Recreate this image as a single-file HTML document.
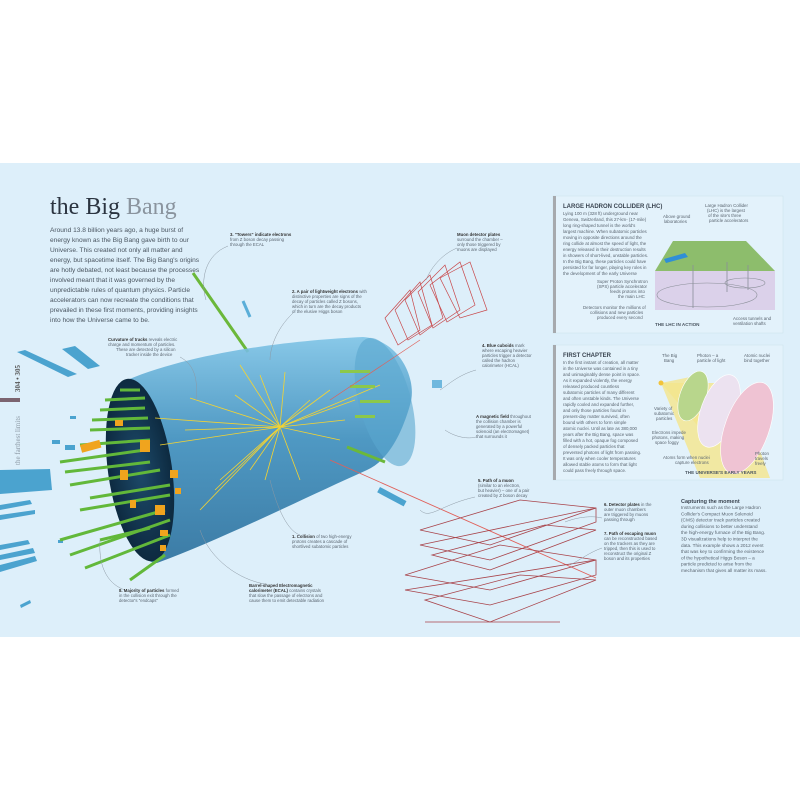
<!DOCTYPE html>
<html><head><meta charset="utf-8"><style>
body{margin:0;width:800px;height:800px;background:#fff;overflow:hidden;font-family:"Liberation Sans",sans-serif}
</style></head><body>
<svg width="800" height="800" viewBox="0 0 800 800" xmlns="http://www.w3.org/2000/svg" font-family="Liberation Sans, sans-serif">
<defs>
<linearGradient id="bar" x1="0" y1="0" x2="0" y2="1">
<stop offset="0" stop-color="#7fc4e6"/><stop offset="0.45" stop-color="#3f8fbd"/><stop offset="1" stop-color="#2a6f9c"/>
</linearGradient>
<radialGradient id="endc" cx="0.5" cy="0.5" r="0.5">
<stop offset="0" stop-color="#1d4a6a"/><stop offset="1" stop-color="#0d2a40"/>
</radialGradient>
</defs>
<rect x="0" y="163" width="800" height="474" fill="#ddeffa"/>
<rect x="0" y="398" width="20" height="4" fill="#7b6470"/>
<text transform="translate(20,465) rotate(-90)" font-size="7" fill="#8b98a4" style="font-family:'Liberation Serif',serif">the farthest limits</text>
<text transform="translate(20,392) rotate(-90)" font-size="7" fill="#555" font-weight="bold" style="font-family:'Liberation Serif',serif">304 • 305</text>
<text x="50" y="214" font-size="24" style="font-family:'Liberation Serif',serif" fill="#2b3440">the Big <tspan fill="#8a949e">Bang</tspan></text>
<g font-size="6.6" fill="#4a5560">
<text x="50" y="232">Around 13.8 billion years ago, a huge burst of</text>
<text x="50" y="242">energy known as the Big Bang gave birth to our</text>
<text x="50" y="252">Universe. This created not only all matter and</text>
<text x="50" y="262">energy, but spacetime itself. The Big Bang's origins</text>
<text x="50" y="272">are hotly debated, not least because the processes</text>
<text x="50" y="282">involved meant that it was governed by the</text>
<text x="50" y="292">unpredictable rules of quantum physics. Particle</text>
<text x="50" y="302">accelerators can now recreate the conditions that</text>
<text x="50" y="312">prevailed in these first moments, providing insights</text>
<text x="50" y="322">into how the Universe came to be.</text>
</g>
<g fill="#4ba3cf">
<polygon points="62,349 75,346 100,366 88,369"/>
<polygon points="17,352 25,350 77,374 68,377"/>
<polygon points="0,470 50,469 52,490 0,494"/>
<polygon points="0,505 30,500 32,504 0,510"/>
<polygon points="0,515 35,510 35,514 0,520"/>
<polygon points="0,545 28,540 30,544 0,550"/>
<polygon points="0,555 33,548 35,553 0,560"/>
<polygon points="0,565 35,556 37,561 0,572"/>
<polygon points="20,605 30,600 31,603 21,608"/>
<rect x="52" y="440" width="8" height="4"/><rect x="65" y="445" width="10" height="5"/>
<rect x="70" y="416" width="6" height="3"/><rect x="58" y="540" width="5" height="3"/>
</g>
<line x1="193" y1="273" x2="248" y2="352" stroke="#6bb83a" stroke-width="3"/>
<line x1="243" y1="301" x2="250" y2="317" stroke="#5aaed8" stroke-width="3"/>
<path d="M127,380 C200,350 300,340 363,337 C400,340 418,380 410,405 C400,440 385,462 367,470 C300,500 220,540 157,563 C120,560 100,470 127,380 Z" fill="url(#bar)" opacity="0.9"/>
<ellipse cx="140" cy="470" rx="32" ry="92" transform="rotate(-8 140 470)" fill="url(#endc)"/>
<ellipse cx="385" cy="402" rx="26" ry="66" transform="rotate(-15 385 402)" fill="#5aa6cf" opacity="0.6"/>
<g stroke="#62b83a" stroke-width="3">
<line x1="120" y1="390" x2="140" y2="390"/><line x1="105" y1="400" x2="145" y2="398"/>
<line x1="100" y1="410" x2="145" y2="408"/><line x1="92" y1="420" x2="148" y2="418"/>
<line x1="90" y1="430" x2="150" y2="428"/><line x1="80" y1="445" x2="150" y2="440"/>
<line x1="60" y1="462" x2="145" y2="450"/><line x1="65" y1="472" x2="150" y2="462"/>
<line x1="70" y1="485" x2="160" y2="470"/><line x1="90" y1="498" x2="170" y2="485"/>
<line x1="80" y1="510" x2="170" y2="495"/><line x1="60" y1="540" x2="165" y2="510"/>
<line x1="70" y1="555" x2="170" y2="520"/><line x1="85" y1="568" x2="170" y2="535"/>
<line x1="100" y1="540" x2="150" y2="528"/><line x1="130" y1="580" x2="165" y2="555"/>
</g>
<g fill="#f0a41e">
<rect x="80" y="445" width="20" height="8" transform="rotate(-15 80 445)"/>
<rect x="140" y="440" width="10" height="12"/><rect x="170" y="470" width="8" height="8"/>
<rect x="175" y="488" width="6" height="6"/><rect x="120" y="470" width="8" height="10"/>
<rect x="155" y="505" width="10" height="10"/><rect x="160" y="530" width="8" height="6"/>
<rect x="115" y="420" width="8" height="6"/><rect x="160" y="545" width="6" height="6"/>
<rect x="130" y="500" width="6" height="8"/>
</g>
<g stroke="#f5d431" stroke-width="0.8">
<line x1="280" y1="427" x2="155" y2="418"/><line x1="280" y1="427" x2="160" y2="445"/>
<line x1="280" y1="427" x2="190" y2="398"/><line x1="280" y1="427" x2="215" y2="490"/>
<line x1="280" y1="427" x2="240" y2="365"/><line x1="280" y1="427" x2="260" y2="375"/>
<line x1="280" y1="427" x2="285" y2="372"/><line x1="280" y1="427" x2="300" y2="480"/>
<line x1="280" y1="427" x2="330" y2="390"/><line x1="280" y1="427" x2="345" y2="420"/>
<line x1="280" y1="427" x2="340" y2="440"/><line x1="280" y1="427" x2="220" y2="480"/>
<line x1="280" y1="427" x2="265" y2="480"/><line x1="280" y1="427" x2="200" y2="510"/>
<line x1="280" y1="427" x2="310" y2="400"/><line x1="280" y1="427" x2="380" y2="385"/>
<line x1="280" y1="427" x2="250" y2="470"/><line x1="280" y1="427" x2="235" y2="395"/>
<line x1="280" y1="427" x2="185" y2="430"/><line x1="280" y1="427" x2="355" y2="400"/>
</g>
<g fill="#8cc84a"><rect x="340" y="370" width="30" height="3"/><rect x="350" y="385" width="25" height="3"/><rect x="360" y="400" width="30" height="3"/><rect x="355" y="415" width="20" height="3"/></g>
<line x1="347" y1="447" x2="385" y2="462" stroke="#6bb83a" stroke-width="3"/>
<line x1="330" y1="460" x2="596" y2="578" stroke="#e0605a" stroke-width="0.9"/>
<line x1="330" y1="400" x2="420" y2="340" stroke="#e0605a" stroke-width="0.7"/>
<rect x="380" y="487" width="30" height="6" transform="rotate(28 380 487)" fill="#4ba3cf"/>
<rect x="432" y="380" width="10" height="8" fill="#6fb8de"/>
<g fill="none" stroke="#c8474a" stroke-width="0.7">
<polygon points="385,318 410,290 420,330 398,345"/>
<polygon points="395,310 420,282 432,325 408,340"/>
<polygon points="405,300 430,275 443,318 420,335"/>
<polygon points="418,292 445,265 460,310 433,328"/>
<polygon points="430,285 460,262 475,305 447,322"/>
<polygon points="440,278 470,262 487,310 460,318"/>
</g>
<g fill="none" stroke="#a8434a" stroke-width="0.8">
<polygon points="420,530 520,500 596,508 490,545"/>
<polygon points="420,545 490,560 596,522 596,508"/>
<polygon points="432,555 545,525 596,530 490,570"/>
<polygon points="405,575 500,545 596,560 490,590"/>
<polygon points="405,590 490,605 596,575 596,560"/>
<polygon points="425,600 520,575 596,580 490,622"/>
<line x1="425" y1="622" x2="560" y2="622"/>
</g>
<g fill="none" stroke="#8c98a3" stroke-width="0.5">
<path d="M228,246 C205,255 200,280 206,300"/>
<path d="M293,313 C275,330 270,350 270,360"/>
<path d="M457,248 C440,255 430,270 426,280"/>
<path d="M180,357 C195,365 198,380 196,400"/>
<path d="M476,370 C458,375 448,385 440,390"/>
<path d="M476,437 C465,440 452,435 445,430"/>
<path d="M475,497 C440,505 430,520 420,510"/>
<path d="M300,535 C285,530 275,500 270,480"/>
<path d="M265,584 C240,580 210,560 200,530"/>
<path d="M125,590 C110,585 98,570 100,540"/>
<path d="M602,518 C590,515 575,518 565,522"/>
<path d="M602,548 C590,552 580,560 570,565"/>
</g>
<g font-size="4.3" fill="#5a6570">
<text x="230" y="236"><tspan font-weight="bold" fill="#333">3. "Towers" indicate electrons</tspan></text>
<text x="230" y="241">from Z boson decay passing</text><text x="230" y="246">through the ECAL</text>
<text x="457" y="236"><tspan font-weight="bold" fill="#333">Muon detector plates</tspan></text>
<text x="457" y="241">surround the chamber –</text><text x="457" y="246">only those triggered by</text><text x="457" y="251">muons are displayed</text>
<text x="292" y="293"><tspan font-weight="bold" fill="#333">2. A pair of lightweight electrons</tspan> with</text>
<text x="292" y="298">distinctive properties are signs of the</text><text x="292" y="303">decay of particles called Z bosons,</text><text x="292" y="308">which in turn are the decay products</text><text x="292" y="313">of the elusive Higgs boson</text>
<text x="108" y="341"><tspan font-weight="bold" fill="#333">Curvature of tracks</tspan> reveals electric</text>
<text x="108" y="346">charge and momentum of particles.</text><text x="116" y="351">These are detected by a silicon</text><text x="126" y="356">tracker inside the device</text>
<text x="482" y="347"><tspan font-weight="bold" fill="#333">4. Blue cuboids</tspan> mark</text>
<text x="482" y="352">where escaping heavier</text><text x="482" y="357">particles trigger a detector</text><text x="482" y="362">called the hadron</text><text x="482" y="367">calorimeter (HCAL)</text>
<text x="476" y="418"><tspan font-weight="bold" fill="#333">A magnetic field</tspan> throughout</text>
<text x="476" y="423">the collision chamber is</text><text x="476" y="428">generated by a powerful</text><text x="476" y="433">solenoid (an electromagnet)</text><text x="476" y="438">that surrounds it</text>
<text x="478" y="482"><tspan font-weight="bold" fill="#333">5. Path of a muon</tspan></text>
<text x="478" y="487">(similar to an electron,</text><text x="478" y="492">but heavier) – one of a pair</text><text x="478" y="497">created by Z boson decay</text>
<text x="292" y="538"><tspan font-weight="bold" fill="#333">1. Collision</tspan> of two high-energy</text>
<text x="292" y="543">protons creates a cascade of</text><text x="292" y="548">shortlived subatomic particles</text>
<text x="249" y="587"><tspan font-weight="bold" fill="#333">Barrel-shaped Electromagnetic</tspan></text>
<text x="249" y="592"><tspan font-weight="bold" fill="#333">calorimeter (ECAL)</tspan> contains crystals</text>
<text x="249" y="597">that slow the passage of electrons and</text><text x="249" y="602">cause them to emit detectable radiation</text>
<text x="119" y="592"><tspan font-weight="bold" fill="#333">8. Majority of particles</tspan> formed</text>
<text x="119" y="597">in the collision exit through the</text><text x="119" y="602">detector's "endcaps"</text>
<text x="604" y="506"><tspan font-weight="bold" fill="#333">6. Detector plates</tspan> in the</text>
<text x="604" y="511">outer muon chambers</text><text x="604" y="516">are triggered by muons</text><text x="604" y="521">passing through</text>
<text x="604" y="535"><tspan font-weight="bold" fill="#333">7. Path of escaping muon</tspan></text>
<text x="604" y="540">can be reconstructed based</text><text x="604" y="545">on the trackers as they are</text><text x="604" y="550">tripped, then this is used to</text><text x="604" y="555">reconstruct the original Z</text><text x="604" y="560">boson and its properties</text>
</g>
<rect x="553" y="196" width="230" height="137" fill="#e3f2fb" stroke="#cfe3ef" stroke-width="0.6"/>
<rect x="553" y="196" width="3" height="137" fill="#a6a9ad"/>
<text x="563" y="208" font-size="6" fill="#3a4450" font-weight="bold">LARGE HADRON COLLIDER (LHC)</text>
<g font-size="4.4" fill="#5a6570">
<text x="563" y="215">Lying 100 m (328 ft) underground near</text>
<text x="563" y="221">Geneva, Switzerland, this 27-km- (17-mile)</text>
<text x="563" y="227">long ring-shaped tunnel is the world's</text>
<text x="563" y="233">largest machine. When subatomic particles</text>
<text x="563" y="239">moving in opposite directions around the</text>
<text x="563" y="245">ring collide at almost the speed of light, the</text>
<text x="563" y="251">energy released in their destruction results</text>
<text x="563" y="257">in showers of short-lived, unstable particles.</text>
<text x="563" y="263">In the Big Bang, these particles could have</text>
<text x="563" y="269">persisted for far longer, playing key roles in</text>
<text x="563" y="275">the development of the early Universe</text>
<text x="597" y="283">Super Proton Synchrotron</text><text x="597" y="288">(SPS) particle accelerator</text><text x="610" y="293">feeds protons into</text><text x="618" y="298">the main LHC</text>
<text x="583" y="309">Detectors monitor the millions of</text><text x="590" y="314">collisions and new particles</text><text x="597" y="319">produced every second</text>
<text x="663" y="218">Above ground</text><text x="664" y="223">laboratories</text>
<text x="705" y="207">Large Hadron Collider</text><text x="707" y="212">(LHC) is the largest</text><text x="708" y="217">of the site's three</text><text x="709" y="222">particle accelerators</text>
<text x="733" y="320">Access tunnels and</text><text x="733" y="325">ventilation shafts</text>
</g>
<text x="655" y="326" font-size="4.6" font-weight="bold" fill="#4a5560">THE LHC IN ACTION</text>
<polygon points="673,241 746,241 775,271 655,271" fill="#8dbd6c"/>
<polygon points="655,271 775,271 775,310 655,310" fill="#d9cde8" opacity="0.9"/>
<polygon points="664,259 685,253 688,257 666,263" fill="#2f8fd6"/>
<ellipse cx="707" cy="295" rx="50" ry="12" fill="none" stroke="#8a8f98" stroke-width="0.6"/>
<ellipse cx="745" cy="283" rx="20" ry="5" fill="none" stroke="#8a8f98" stroke-width="0.6"/>
<g stroke="#8a8f98" stroke-width="0.8"><line x1="693" y1="265" x2="693" y2="308"/><line x1="727" y1="262" x2="727" y2="292"/><line x1="748" y1="265" x2="748" y2="290"/></g>
<rect x="553" y="345" width="230" height="135" fill="#e3f2fb" stroke="#cfe3ef" stroke-width="0.6"/>
<rect x="553" y="345" width="3" height="135" fill="#a6a9ad"/>
<text x="563" y="357" font-size="6" fill="#3a4450" font-weight="bold">FIRST CHAPTER</text>
<polygon points="661,383 735,383 770,478 700,478" fill="#f4e58c" opacity="0.8"/>
<polygon points="661,383 700,375 710,440" fill="#f4e58c" opacity="0.8"/>
<circle cx="661" cy="383" r="2.5" fill="#f2c33a"/>
<ellipse cx="693" cy="396" rx="13" ry="26" transform="rotate(20 693 396)" fill="#b8d68c" stroke="#fff" stroke-width="0.6"/>
<ellipse cx="719" cy="411" rx="18" ry="38" transform="rotate(20 719 411)" fill="#ece2f0" stroke="#fff" stroke-width="0.6"/>
<ellipse cx="747" cy="428" rx="22" ry="48" transform="rotate(20 747 428)" fill="#efc3d3" stroke="#fff" stroke-width="0.6"/>
<g font-size="4.4" fill="#5a6570">
<text x="563" y="364">In the first instant of creation, all matter</text>
<text x="563" y="370">in the Universe was contained in a tiny</text>
<text x="563" y="376">and unimaginably dense point in space.</text>
<text x="563" y="382">As it expanded violently, the energy</text>
<text x="563" y="388">released produced countless</text>
<text x="563" y="394">subatomic particles of many different</text>
<text x="563" y="400">and often unstable kinds. The Universe</text>
<text x="563" y="406">rapidly cooled and expanded further,</text>
<text x="563" y="412">and only those particles found in</text>
<text x="563" y="418">present-day matter survived, often</text>
<text x="563" y="424">bound with others to form simple</text>
<text x="563" y="430">atomic nuclei. Until as late as 380,000</text>
<text x="563" y="436">years after the Big Bang, space was</text>
<text x="563" y="442">filled with a hot, opaque fog composed</text>
<text x="563" y="448">of densely packed particles that</text>
<text x="563" y="454">prevented photons of light from passing.</text>
<text x="563" y="460">It was only when cooler temperatures</text>
<text x="563" y="466">allowed stable atoms to form that light</text>
<text x="563" y="472">could pass freely through space.</text>
<text x="662" y="357">The Big</text><text x="664" y="362">Bang</text>
<text x="697" y="357">Photon – a</text><text x="697" y="362">particle of light</text>
<text x="744" y="357">Atomic nuclei</text><text x="744" y="362">bind together</text>
<text x="654" y="410">Variety of</text><text x="654" y="415">subatomic</text><text x="656" y="420">particles</text>
<text x="652" y="434">Electrons impede</text><text x="652" y="439">photons, making</text><text x="655" y="444">space foggy</text>
<text x="663" y="459">Atoms form when nuclei</text><text x="675" y="464">capture electrons</text>
<text x="755" y="455">Photon</text><text x="755" y="460">travels</text><text x="755" y="465">freely</text>
</g>
<text x="685" y="474" font-size="4.6" font-weight="bold" fill="#4a5560">THE UNIVERSE'S EARLY YEARS</text>
<text x="681" y="503" font-size="5.5" font-weight="bold" fill="#3a4450">Capturing the moment</text>
<g font-size="4.7" fill="#5a6570">
<text x="681" y="509">Instruments such as the Large Hadron</text>
<text x="681" y="515.3">Collider's Compact Muon Solenoid</text>
<text x="681" y="521.6">(CMS) detector track particles created</text>
<text x="681" y="527.9">during collisions to better understand</text>
<text x="681" y="534.2">the high-energy furnace of the Big Bang.</text>
<text x="681" y="540.5">3D visualizations help to interpret the</text>
<text x="681" y="546.8">data. This example shows a 2012 event</text>
<text x="681" y="553.1">that was key to confirming the existence</text>
<text x="681" y="559.4">of the hypothetical Higgs Boson – a</text>
<text x="681" y="565.7">particle predicted to arise from the</text>
<text x="681" y="572">mechanism that gives all matter its mass.</text>
</g>
</svg>
</body></html>
